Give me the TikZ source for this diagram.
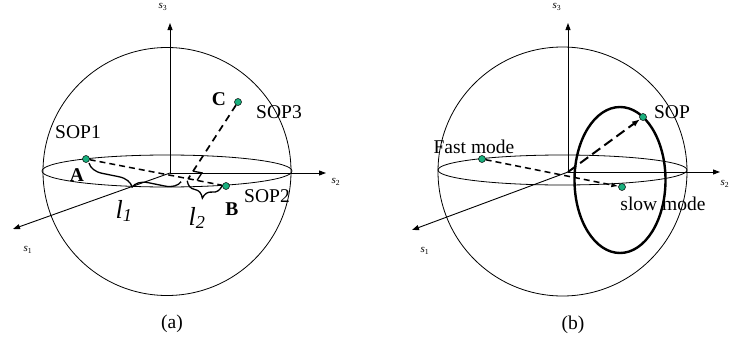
\documentclass[tikz,border=0pt]{standalone}
\usepackage{fontspec}
\setmainfont{Liberation Serif}
\usetikzlibrary{arrows.meta, positioning, decorations.pathreplacing, calc}
\definecolor{sopgreen}{RGB}{25,175,125}

\begin{document}
\begin{tikzpicture}[
  x=1pt, y=-1pt,
  font          = \fontsize{19.5}{22}\selectfont,
  % thin lines of sphere and equator, thin axes with small filled heads
  shell/.style  = {line width=0.8pt},
  axis/.style   = {line width=0.9pt, -{Triangle[length=7pt, width=5pt]}},
  axlbl/.style  = {font=\fontsize{11}{12}\selectfont, inner sep=0pt},
  dot/.style    = {circle, draw, line width=0.5pt, fill=sopgreen,
                   inner sep=0pt, minimum size=7pt},
  ptlbl/.style  = {inner sep=0pt},
  shortdash/.style = {dash pattern=on 6pt off 4pt, line width=1.5pt},
  longdash/.style  = {dash pattern=on 10pt off 5pt, line width=2pt},
  brc/.style    = {decorate, decoration={brace, mirror, amplitude=15pt},
                   line width=1.3pt},
  lenlbl/.style = {font=\fontsize{26}{28}\selectfont\itshape, inner sep=0pt},
]
\useasboundingbox[fill=white] (0,0) rectangle (731,340);

% ── Panel (a) ──────────────────────────────────────────────────────────────────
\draw[shell] (167,171.5) circle [radius=124];
\draw[shell] (167,171) ellipse [x radius=125, y radius=16];

\coordinate (oA)  at (170,173);
\coordinate (s3A) at (170,23);
\coordinate (s2A) at (326,173);
\coordinate (s1A) at (13,229);
\draw[axis] (oA) -- (s3A);
\draw[axis] (oA) -- (s2A);
\draw[axis] (oA) -- (s1A);
\node[axlbl] (ls3A) at (163,7)   {\textit{s}\textsubscript{3}};
\node[axlbl] (ls2A) at (336,182) {\textit{s}\textsubscript{2}};
\node[axlbl] (ls1A) at (28,250)  {\textit{s}\textsubscript{1}};

\node[dot] (ptA) at (86,159)  {};
\node[dot] (ptB) at (226,186) {};
\node[dot] (ptC) at (238,102) {};
\coordinate (foot) at ($(ptA)!0.73!(ptB)$);

\draw[shortdash] (ptA) -- (ptB);
\draw[shortdash, dash pattern=on 7pt off 5pt, line width=1.7pt] (ptC) -- (foot);

% right-angle mark at the foot
\coordinate (rc) at ($(foot)!9pt!(ptC)$);
\coordinate (rb) at ($(foot)!9pt!(ptB)$);
\draw[line width=1.3pt] (rc) -- ($(rc)+(rb)-(foot)$) -- (rb);

\draw[brc] ($(ptA)+(3,4)$) -- ($(foot)+(-7,3)$);
\draw[brc] ($(foot)+(-1,2)$) -- ($(ptB)+(-4,0)$);
\node[lenlbl] (lone) at (124,211) {l\textsubscript{1}};
\node[lenlbl] (ltwo) at (197,218) {l\textsubscript{2}};

\node[ptlbl] (sopone)   at (78,132)  {SOP1};
\node[ptlbl] (soptwo)   at (267,196) {SOP2};
\node[ptlbl] (sopthree) at (279,112) {SOP3};
\node[ptlbl, font=\fontsize{19.5}{22}\selectfont\bfseries] (lA) at (77,175)  {A};
\node[ptlbl, font=\fontsize{19.5}{22}\selectfont\bfseries] (lB) at (232,209) {B};
\node[ptlbl, font=\fontsize{19.5}{22}\selectfont\bfseries] (lC) at (219,99)  {C};
\node[ptlbl] (capA) at (172,324) {(a)};

% ── Panel (b) ──────────────────────────────────────────────────────────────────
\draw[shell] (562.5,171.5) circle [radius=124.5];
\draw[shell] (562.5,170) ellipse [x radius=124.5, y radius=15];

\coordinate (oB)  at (568,172);
\coordinate (s3B) at (568,23);
\coordinate (s2B) at (720,172);
\coordinate (s1B) at (412,230);
\draw[axis] (oB) -- (s3B);
\draw[axis] (oB) -- (s2B);
\draw[axis] (oB) -- (s1B);
\node[axlbl] (ls3B) at (557,7)   {\textit{s}\textsubscript{3}};
\node[axlbl] (ls2B) at (725,184) {\textit{s}\textsubscript{2}};
\node[axlbl] (ls1B) at (425,251) {\textit{s}\textsubscript{1}};

\draw[line width=2.4pt] (620,180) ellipse [x radius=45.5, y radius=73];

\node[dot] (fast) at (482,159) {};
\node[dot] (slow) at (622,187) {};
\node[dot] (sop)  at (643,117) {};

\draw[shortdash, -{Latex[length=7pt, width=5pt]}] (fast) -- (slow);
\draw[longdash, -{Latex[length=8pt, width=6pt]}] (oB) -- (sop);

\node[ptlbl] (lfast) at (474,147) {Fast mode};
\node[ptlbl] (lslow) at (663,204) {slow mode};
\node[ptlbl] (lsop)  at (672,112) {SOP};
\node[ptlbl] (capB)  at (573,325) {(b)};

\end{tikzpicture}
\end{document}
